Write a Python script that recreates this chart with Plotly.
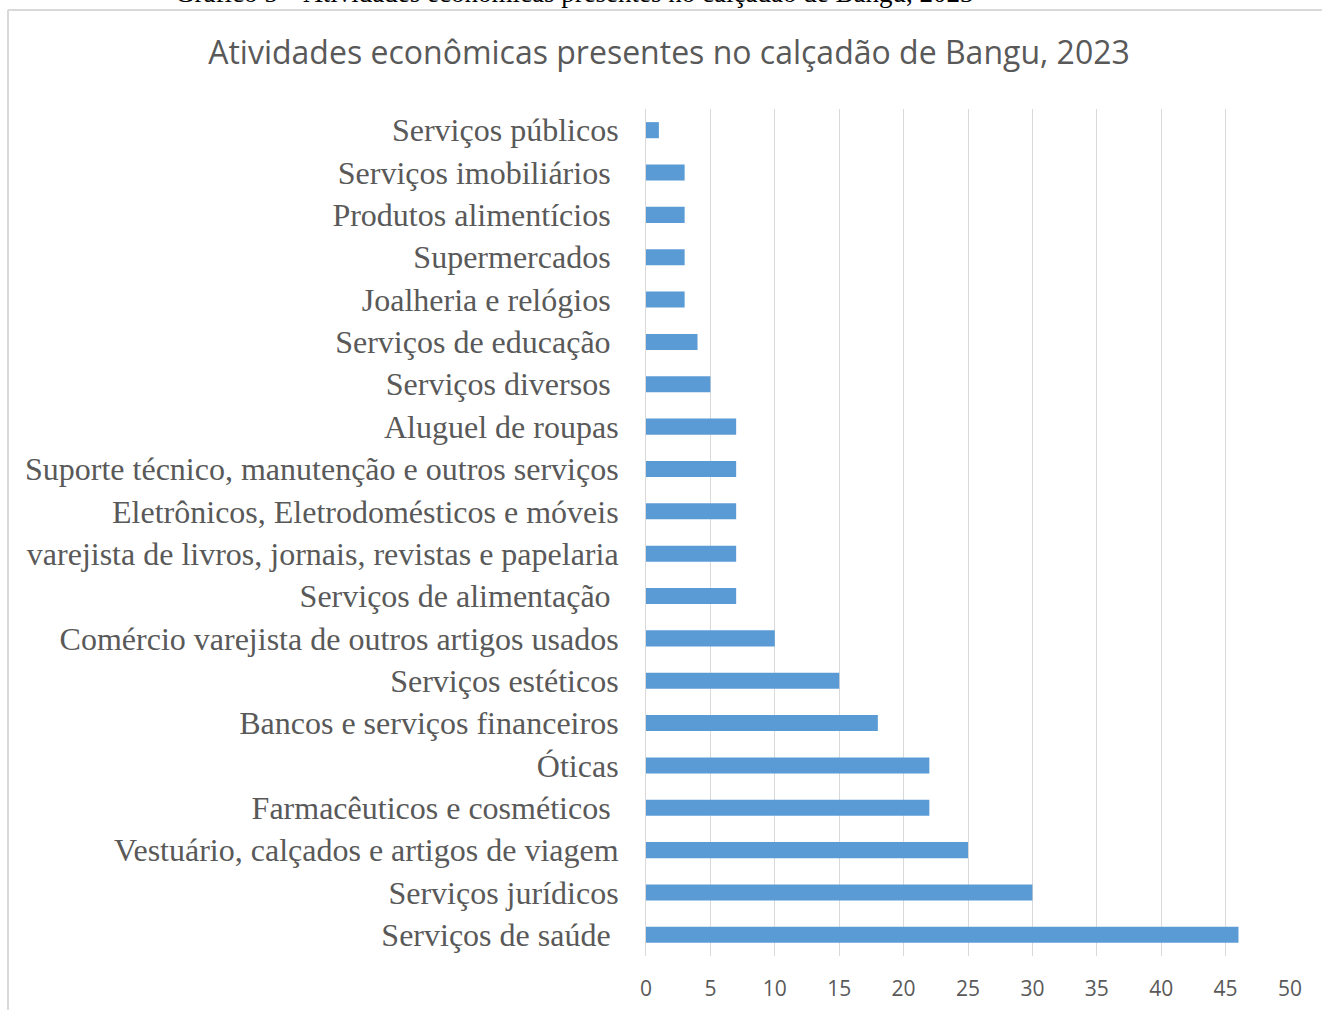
import plotly.graph_objects as go

categories = [
    "Serviços de saúde\u00a0",
    "Serviços jurídicos",
    "Vestuário, calçados e artigos de viagem",
    "Farmacêuticos e cosméticos\u00a0",
    "Óticas",
    "Bancos e serviços financeiros",
    "Serviços estéticos",
    "Comércio varejista de outros artigos usados",
    "Serviços de alimentação\u00a0",
    "varejista de livros, jornais, revistas e papelaria",
    "Eletrônicos, Eletrodomésticos e móveis",
    "Suporte técnico, manutenção e outros serviços",
    "Aluguel de roupas",
    "Serviços diversos\u00a0",
    "Serviços de educação\u00a0",
    "Joalheria e relógios\u00a0",
    "Supermercados\u00a0",
    "Produtos alimentícios\u00a0",
    "Serviços imobiliários\u00a0",
    "Serviços públicos",
]
values = [46, 30, 25, 22, 22, 18, 15, 10, 7, 7, 7, 7, 7, 5, 4, 3, 3, 3, 3, 1]
x_ticks = [0, 5, 10, 15, 20, 25, 30, 35, 40, 45, 50]

title_text = "Atividades econômicas presentes no calçadão de Bangu, 2023"
caption_text = "Gráfico 5 \u2013 Atividades econômicas presentes no calçadão de Bangu, 2023"

W, H = 1322, 1010
ML, MR, MT, MB = 646, 32, 109, 54
pw, ph = W - ML - MR, H - MT - MB

def px_x(p):
    return (p - ML) / pw

def px_y(p):
    return (H - MB - p) / ph

fig = go.Figure(
    go.Bar(
        x=values,
        y=categories,
        orientation="h",
        marker=dict(color="#5B9BD5", line=dict(width=0)),
        hoverinfo="x+y",
    )
)

fig.update_layout(
    width=W,
    height=H,
    margin=dict(l=ML, r=MR, t=MT, b=MB, autoexpand=False),
    paper_bgcolor="white",
    plot_bgcolor="white",
    bargap=0.62,
    showlegend=False,
    title=dict(
        text=title_text,
        x=px_x(669),
        xref="paper",
        xanchor="center",
        y=1 - 53 / H,
        yref="container",
        yanchor="middle",
        font=dict(family="Open Sans", size=32, color="#595959"),
    ),
    xaxis=dict(
        range=[0, 50],
        tickvals=x_ticks,
        ticktext=[str(t) for t in x_ticks],
        showgrid=True,
        gridcolor="#D9D9D9",
        gridwidth=1,
        zeroline=False,
        showline=False,
        ticks="",
        tickfont=dict(family="Open Sans", size=21, color="#595959"),
        ticklabelstandoff=18,
        automargin=False,
        fixedrange=True,
    ),
    yaxis=dict(
        showgrid=False,
        zeroline=False,
        showline=True,
        linecolor="#D9D9D9",
        linewidth=1,
        ticks="",
        tickfont=dict(family="Liberation Serif", size=32, color="#595959"),
        ticklabelstandoff=20,
        automargin=False,
        fixedrange=True,
    ),
    font=dict(family="Liberation Serif"),
)

# outer chart border (left and top visible)
fig.add_shape(type="line", xref="paper", yref="paper",
              x0=px_x(8), x1=px_x(8), y0=px_y(10), y1=px_y(1015),
              line=dict(color="#D9D9D9", width=2))
fig.add_shape(type="line", xref="paper", yref="paper",
              x0=px_x(8), x1=px_x(1330), y0=px_y(10), y1=px_y(10),
              line=dict(color="#D9D9D9", width=2))

# caption above the chart (cut off at top, as in the source)
fig.add_annotation(
    text=caption_text,
    xref="paper", yref="paper",
    x=px_x(574), y=px_y(10),
    xanchor="center", yanchor="bottom",
    showarrow=False,
    font=dict(family="Liberation Serif", size=27, color="black"),
)

fig.write_html("out.html")
